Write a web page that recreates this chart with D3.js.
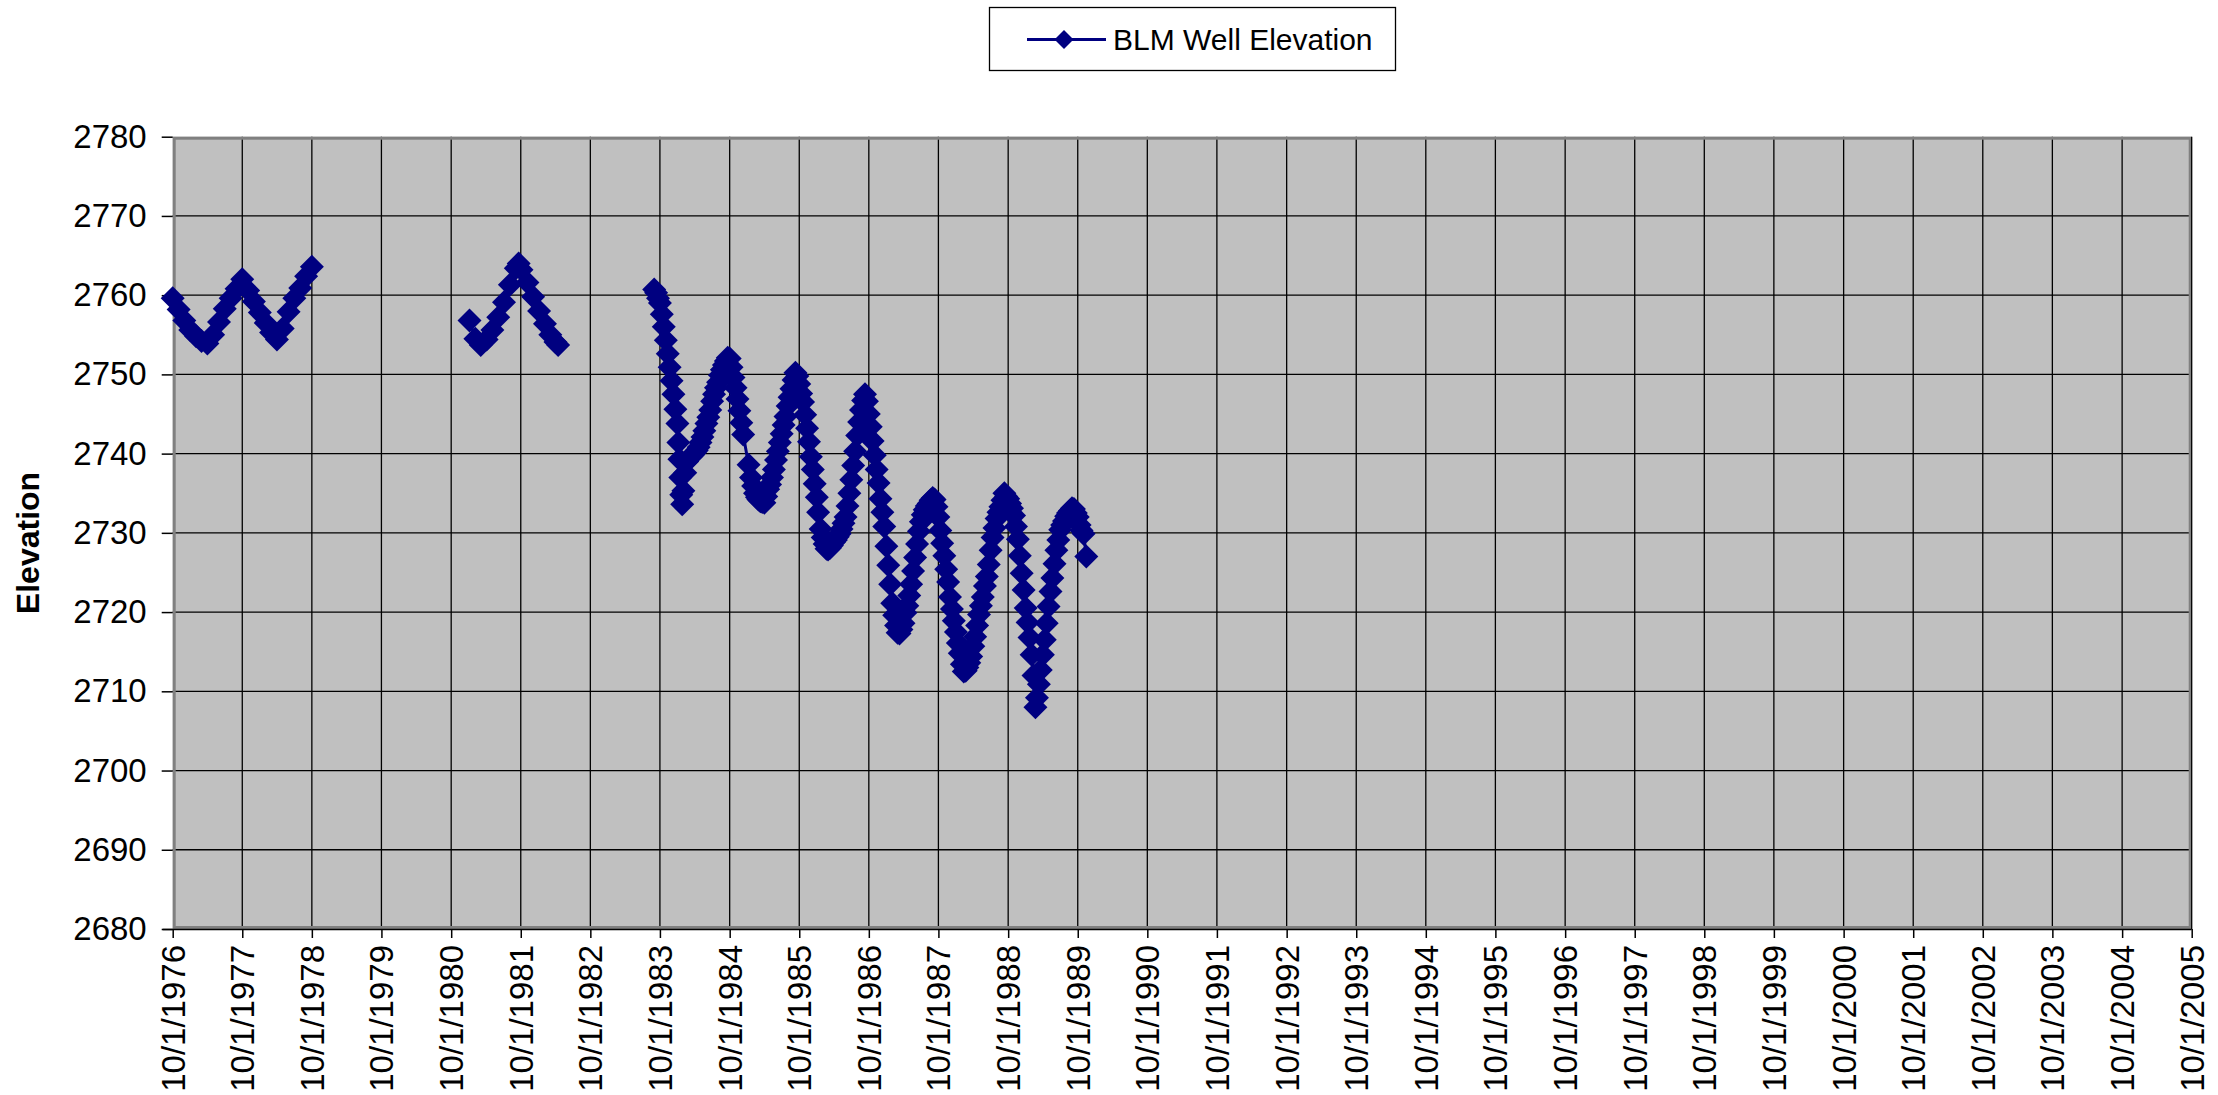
<!DOCTYPE html>
<html>
<head>
<meta charset="utf-8">
<script src="https://cdn.jsdelivr.net/npm/d3@7"></script>
<style>
  html, body { margin: 0; padding: 0; background: #ffffff; }
  svg { display: block; font-family: "Liberation Sans", Arial, sans-serif; }
</style>
</head>
<body>
<svg id="chart" width="2218" height="1095"></svg>
<script>
// ---- Chart data -------------------------------------------------------
const seriesName = "BLM Well Elevation";
const yAxisTitle = "Elevation";

const yTickValues = [2680, 2690, 2700, 2710, 2720, 2730, 2740, 2750, 2760, 2770, 2780];

const xTickLabels = [
  "10/1/1976", "10/1/1977", "10/1/1978", "10/1/1979", "10/1/1980", "10/1/1981",
  "10/1/1982", "10/1/1983", "10/1/1984", "10/1/1985", "10/1/1986", "10/1/1987",
  "10/1/1988", "10/1/1989", "10/1/1990", "10/1/1991", "10/1/1992", "10/1/1993",
  "10/1/1994", "10/1/1995", "10/1/1996", "10/1/1997", "10/1/1998", "10/1/1999",
  "10/1/2000", "10/1/2001", "10/1/2002", "10/1/2003", "10/1/2004", "10/1/2005"
];

// First run of readings, 1976-1978
const datesA = [
  "1976-10-01", "1976-11-01", "1976-12-01", "1977-01-01", "1977-02-01", "1977-03-01",
  "1977-04-01", "1977-05-01", "1977-06-01", "1977-07-01", "1977-08-01", "1977-09-01",
  "1977-10-01", "1977-11-01", "1977-12-01", "1978-01-01", "1978-02-01", "1978-03-01",
  "1978-04-01", "1978-05-01", "1978-06-01", "1978-07-01", "1978-08-01", "1978-09-01",
  "1978-10-01"
];
const elevA = [
  2759.6, 2758.2, 2756.8, 2755.6, 2754.8, 2754.2,
  2753.9, 2755.0, 2756.6, 2758.3, 2759.6, 2760.8,
  2762.0, 2760.6, 2759.2, 2757.8, 2756.5, 2755.3,
  2754.4, 2755.8, 2757.9, 2759.6, 2760.9, 2762.4,
  2763.6
];

// Second run of readings, 1981-1982
const datesB = [
  "1981-01-05", "1981-02-05", "1981-03-05", "1981-04-05", "1981-05-05", "1981-06-05",
  "1981-07-05", "1981-08-05", "1981-09-05", "1981-09-20", "1981-10-05", "1981-11-05",
  "1981-12-05", "1982-01-05", "1982-02-05", "1982-03-05", "1982-04-01", "1982-04-15"
];
const elevB = [
  2756.8, 2754.5, 2753.7, 2754.4, 2755.6, 2757.2,
  2759.1, 2761.3, 2763.4, 2764.0, 2763.2, 2761.6,
  2759.8, 2758.0, 2756.4, 2755.0, 2754.1, 2753.7
];

// Third run of readings, 1983-1989
const datesC = [
  "1983-09-01", "1983-09-11", "1983-09-21", "1983-10-01", "1983-10-11", "1983-10-21",
  "1983-11-01", "1983-11-11", "1983-11-21", "1983-12-01", "1983-12-11", "1983-12-21",
  "1984-01-01", "1984-01-06", "1984-01-11", "1984-01-16", "1984-01-21", "1984-01-26",
  "1984-02-01", "1984-02-11", "1984-02-21", "1984-03-01", "1984-03-11", "1984-03-21",
  "1984-04-01", "1984-04-11", "1984-04-21", "1984-05-01", "1984-05-11", "1984-05-21",
  "1984-06-01", "1984-06-11", "1984-06-21", "1984-07-01", "1984-07-11", "1984-07-21",
  "1984-08-01", "1984-08-11", "1984-08-21", "1984-09-01", "1984-09-11", "1984-09-21",
  "1984-10-01", "1984-10-11", "1984-10-21", "1984-11-01", "1984-11-11", "1984-11-21",
  "1984-12-01", "1984-12-11", "1985-01-08", "1985-01-21",
  "1985-02-01", "1985-02-11", "1985-02-21", "1985-03-01", "1985-03-11", "1985-03-21",
  "1985-04-01", "1985-04-11", "1985-04-21", "1985-05-01", "1985-05-11", "1985-05-21",
  "1985-06-01", "1985-06-11", "1985-06-21", "1985-07-01", "1985-07-11", "1985-07-21",
  "1985-08-01", "1985-08-11", "1985-08-21", "1985-09-01", "1985-09-11", "1985-09-21",
  "1985-10-01", "1985-10-11", "1985-10-21", "1985-11-01", "1985-11-11", "1985-11-21",
  "1985-12-01", "1985-12-11", "1985-12-21", "1986-01-01", "1986-01-08", "1986-01-21",
  "1986-02-01", "1986-02-11", "1986-02-21", "1986-03-01", "1986-03-11", "1986-03-21",
  "1986-04-01", "1986-04-11", "1986-04-21", "1986-05-01", "1986-05-11", "1986-05-21",
  "1986-06-01", "1986-06-11", "1986-06-21", "1986-07-01", "1986-07-11", "1986-07-21",
  "1986-08-01", "1986-08-11", "1986-08-21", "1986-09-01", "1986-09-11", "1986-09-21",
  "1986-10-01", "1986-10-11", "1986-10-21", "1986-11-01", "1986-11-11", "1986-11-21",
  "1986-12-01", "1986-12-11", "1986-12-21", "1987-01-01", "1987-01-11", "1987-01-21",
  "1987-02-01", "1987-02-11", "1987-02-21", "1987-03-01", "1987-03-11", "1987-03-21",
  "1987-04-01", "1987-04-11", "1987-04-21", "1987-05-01", "1987-05-11", "1987-05-21",
  "1987-06-01", "1987-06-11", "1987-06-21", "1987-07-01", "1987-07-11", "1987-07-21",
  "1987-08-01", "1987-08-11", "1987-08-21", "1987-09-01", "1987-09-11", "1987-09-21",
  "1987-10-01", "1987-10-11", "1987-10-21", "1987-11-01", "1987-11-11", "1987-11-21",
  "1987-12-01", "1987-12-11", "1987-12-21", "1988-01-01", "1988-01-11", "1988-01-21",
  "1988-02-01", "1988-02-11", "1988-02-21", "1988-03-01", "1988-03-11", "1988-03-21",
  "1988-04-01", "1988-04-11", "1988-04-21", "1988-05-01", "1988-05-11", "1988-05-21",
  "1988-06-01", "1988-06-11", "1988-06-21", "1988-07-01", "1988-07-11", "1988-07-21",
  "1988-08-01", "1988-08-11", "1988-08-21", "1988-09-01", "1988-09-11", "1988-09-21",
  "1988-10-01", "1988-10-11", "1988-10-21", "1988-11-01", "1988-11-11", "1988-11-21",
  "1988-12-01", "1988-12-11", "1988-12-21", "1989-01-01", "1989-01-11", "1989-01-21",
  "1989-02-01", "1989-02-11", "1989-02-21", "1989-03-01", "1989-03-11", "1989-03-21",
  "1989-04-01", "1989-04-11", "1989-04-21", "1989-05-01", "1989-05-11", "1989-05-21",
  "1989-06-01", "1989-06-11", "1989-06-21", "1989-07-01", "1989-07-11", "1989-07-21",
  "1989-08-01", "1989-08-11", "1989-08-21", "1989-09-01", "1989-09-11", "1989-09-21",
  "1989-10-01", "1989-10-11", "1989-10-21", "1989-11-01", "1989-11-15"
];
const elevC = [
  2760.7, 2760.3, 2759.6, 2759.0, 2757.6, 2756.0,
  2754.3, 2752.6, 2750.9, 2749.2, 2747.5, 2745.6,
  2743.8, 2741.4, 2739.3, 2737.0, 2734.8, 2733.6,
  2735.3, 2737.6, 2739.0, 2739.4, 2739.6, 2739.8,
  2740.1, 2740.4, 2740.8, 2741.4, 2742.1, 2742.9,
  2743.8, 2744.6, 2745.5, 2746.6, 2747.5, 2748.3,
  2749.0, 2749.9, 2750.6, 2751.2, 2751.7, 2752.1,
  2752.0, 2750.9, 2749.6, 2748.3, 2746.9, 2745.4,
  2743.9, 2742.4, 2738.6, 2737.0,
  2735.9, 2735.0, 2734.5, 2734.2, 2734.0, 2733.9,
  2733.8, 2734.6, 2735.5, 2736.1, 2737.0, 2738.0,
  2739.2, 2740.3, 2741.4, 2742.5, 2743.6, 2744.7,
  2746.0, 2747.1, 2748.2, 2749.3, 2750.2, 2749.8,
  2748.8, 2747.6, 2746.5, 2744.9, 2743.2, 2741.5,
  2739.6, 2738.0, 2736.2, 2734.5, 2732.6, 2730.5,
  2729.4, 2728.6, 2728.0, 2727.9, 2728.1, 2728.4,
  2728.8, 2729.1, 2729.5, 2729.9, 2730.5, 2731.2,
  2732.0, 2733.4, 2735.0, 2736.7, 2738.5, 2740.3,
  2742.3, 2744.0, 2745.5, 2746.7, 2747.5, 2746.6,
  2745.0, 2743.4, 2741.6, 2739.8, 2738.0, 2736.3,
  2734.3, 2732.6, 2730.8, 2728.3, 2725.9, 2723.5,
  2721.1, 2719.6, 2718.3, 2717.4, 2717.3, 2717.8,
  2718.6, 2719.9, 2720.8, 2722.1, 2723.5, 2725.2,
  2726.9, 2728.6, 2730.2, 2731.4, 2732.3, 2732.9,
  2733.4, 2733.7, 2734.1, 2734.4, 2734.2, 2733.3,
  2732.0, 2730.3, 2728.7, 2727.1, 2725.4, 2723.8,
  2721.9, 2720.4, 2718.9, 2717.5, 2716.1, 2714.8,
  2713.4, 2712.5, 2712.6, 2713.0, 2713.6, 2714.4,
  2715.7, 2716.9, 2718.3, 2719.7, 2720.8, 2721.9,
  2723.3, 2724.5, 2726.0, 2727.8, 2729.4, 2730.6,
  2731.8, 2732.6, 2733.3, 2734.1, 2735.0, 2734.6,
  2734.3, 2733.7, 2733.1, 2732.2, 2730.8, 2729.2,
  2727.1, 2724.9, 2722.8, 2720.5, 2718.7, 2716.8,
  2714.6, 2712.0, 2708.0, 2709.2, 2710.9, 2712.7,
  2714.6, 2716.5, 2718.6, 2720.7, 2722.6, 2724.3,
  2726.1, 2727.8, 2729.1, 2730.4, 2731.0, 2731.5,
  2732.1, 2732.5, 2732.8, 2733.1, 2733.0, 2732.5,
  2732.0, 2731.0, 2730.3, 2729.9, 2727.0
];

// ---- Layout -----------------------------------------------------------
const plot = { left: 172.7, right: 2191.7, top: 136.7, bottom: 929 };
const navy = "#000080";
const markerR = 12;
const tickFont = 33;

const svg = d3.select("#chart");
const parseDay = d3.timeParse("%Y-%m-%d");
const parseTick = d3.timeParse("%m/%d/%Y");
const tickDates = xTickLabels.map(parseTick);

const x = d3.scaleTime()
  .domain([tickDates[0], tickDates[tickDates.length - 1]])
  .range([plot.left, plot.right]);
const y = d3.scaleLinear()
  .domain([yTickValues[0], yTickValues[yTickValues.length - 1]])
  .range([plot.bottom, plot.top]);

// Plot area background
svg.append("rect")
  .attr("x", plot.left).attr("y", plot.top)
  .attr("width", plot.right - plot.left).attr("height", plot.bottom - plot.top)
  .attr("fill", "#c0c0c0");

// Gridlines
const grid = svg.append("g").attr("stroke", "#000").attr("stroke-width", 1.3);
grid.selectAll("line.h").data(yTickValues.slice(1, -1)).join("line")
  .attr("x1", plot.left).attr("x2", plot.right)
  .attr("y1", d => y(d)).attr("y2", d => y(d));
grid.selectAll("line.v").data(tickDates.slice(1, -1)).join("line")
  .attr("y1", plot.top).attr("y2", plot.bottom)
  .attr("x1", d => x(d)).attr("x2", d => x(d));

// Plot area frame
svg.append("rect")
  .attr("x", plot.left + 1.5).attr("y", plot.top + 1.5)
  .attr("width", plot.right - plot.left - 3).attr("height", plot.bottom - plot.top - 3)
  .attr("fill", "none").attr("stroke", "#808080").attr("stroke-width", 3);
svg.append("line")
  .attr("x1", plot.right).attr("x2", plot.right)
  .attr("y1", plot.top).attr("y2", plot.bottom)
  .attr("stroke", "#000").attr("stroke-width", 1.3);

// Y axis
const yAxis = d3.axisLeft(y).tickValues(yTickValues).tickSize(11).tickPadding(15)
  .tickFormat(d3.format("d"));
const gy = svg.append("g").attr("transform", `translate(${plot.left},0)`).call(yAxis);
gy.select(".domain").remove();
gy.selectAll(".tick line").attr("stroke", "#000").attr("stroke-width", 1.5);
gy.selectAll(".tick text")
  .attr("font-family", "Liberation Sans, Arial, sans-serif")
  .attr("font-size", tickFont).attr("fill", "#000");

// X axis
const xAxis = d3.axisBottom(x).tickValues(tickDates).tickSize(9)
  .tickFormat((d, i) => xTickLabels[i]);
const gx = svg.append("g").attr("transform", `translate(0,${plot.bottom})`).call(xAxis);
gx.select(".domain")
  .attr("d", `M${plot.left - 10},0.5H${plot.right}`)
  .attr("stroke", "#000").attr("stroke-width", 1.5);
gx.selectAll(".tick line").attr("stroke", "#000").attr("stroke-width", 1.5);
gx.selectAll(".tick text")
  .attr("font-family", "Liberation Sans, Arial, sans-serif")
  .attr("font-size", tickFont).attr("fill", "#000")
  .attr("text-anchor", "end")
  .attr("transform", "rotate(-90)")
  .attr("x", -16).attr("y", 0).attr("dy", "0.35em");

// Y axis title
svg.append("text")
  .attr("transform", "translate(28,543) rotate(-90)")
  .attr("text-anchor", "middle").attr("dy", "0.35em")
  .attr("font-size", 32).attr("font-weight", "bold")
  .text(yAxisTitle);

// Series: line segments then diamond markers
const diamond = r => `M0,${-r}L${r},0L0,${r}L${-r},0Z`;
const segments = [[datesA, elevA], [datesB, elevB], [datesC, elevC]].map(([ds, vs]) =>
  ds.map((d, i) => ({ date: parseDay(d), value: vs[i] })));

const line = d3.line().x(d => x(d.date)).y(d => y(d.value));
const series = svg.append("g");
series.selectAll("path.seg").data(segments).join("path")
  .attr("d", line)
  .attr("fill", "none").attr("stroke", navy).attr("stroke-width", 3)
  .attr("stroke-linejoin", "round");
series.selectAll("path.mk").data(segments.flat()).join("path")
  .attr("d", diamond(markerR))
  .attr("transform", d => `translate(${x(d.date)},${y(d.value)})`)
  .attr("fill", navy);

// Legend
const legend = svg.append("g");
legend.append("rect")
  .attr("x", 989.5).attr("y", 7.5).attr("width", 406).attr("height", 63)
  .attr("fill", "#fff").attr("stroke", "#000").attr("stroke-width", 1.3);
legend.append("line")
  .attr("x1", 1027).attr("x2", 1106).attr("y1", 39.5).attr("y2", 39.5)
  .attr("stroke", navy).attr("stroke-width", 3);
legend.append("path")
  .attr("d", diamond(9.5))
  .attr("transform", "translate(1064,39.5)")
  .attr("fill", navy);
legend.append("text")
  .attr("x", 1113).attr("y", 39.5).attr("dy", "0.35em")
  .attr("font-size", 30).attr("fill", "#000")
  .text(seriesName);
</script>
</body>
</html>
